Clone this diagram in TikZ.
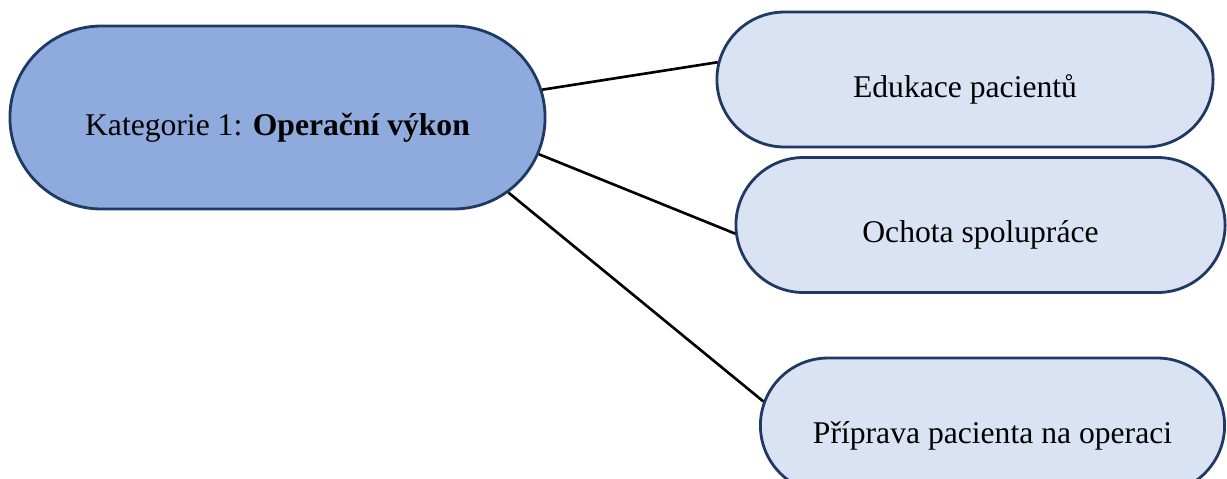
\documentclass[tikz,border=0pt]{standalone}
\usepackage{fontspec}
\setmainfont{Liberation Serif}
\usetikzlibrary{shapes.misc}
\definecolor{hubblue}{HTML}{8FAADC}
\definecolor{leafblue}{HTML}{DAE3F3}
\definecolor{rimnavy}{HTML}{203864}
\tikzset{every node/.style={align=center}, font=\fontsize{18}{22}\selectfont,
  bubble/.style={rounded rectangle, draw=rimnavy, line width=1.6pt, text height=0.8cm, text depth=0.1cm},
  hub/.style={bubble, fill=hubblue, minimum width=10.94cm, minimum height=3.66cm},
  leaf/.style={bubble, fill=leafblue, minimum height=2.7cm}}

\begin{document}
\begin{tikzpicture}[x=0.02cm, y=-0.02cm]
            \useasboundingbox (0,0) rectangle (1227,478);
            \node [hub] (cat) at (277.5,117.5) {Kategorie 1: \textbf{Operační výkon}};
            \node [leaf, minimum width=10.16cm] (edu) at (965,79.5) {Edukace pacientů};
            \node [leaf, minimum width=10.02cm] (coop) at (980.5,225) {Ochota spolupráce};
            \node [leaf, minimum width=9.52cm] (prep) at (992.5,425.5) {Příprava pacienta na operaci};
            \path[line width=1.5pt] (cat.6) edge (edu.176)
                (cat.-8) edge (coop.182)
                (cat.-18) edge (prep.174);
        \end{tikzpicture}
\end{document}
